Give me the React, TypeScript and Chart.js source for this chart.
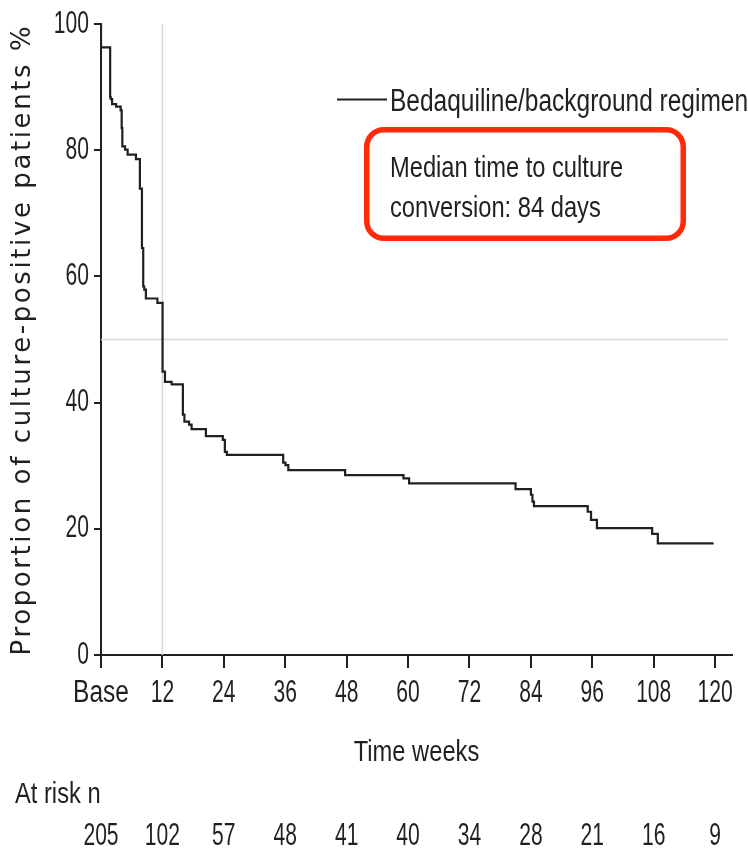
import React, { useEffect, useRef } from 'react';
import { Chart, registerables } from 'chart.js';

Chart.register(...registerables);

// ---- data ----
const WEEKS = [
  0, 0, 1.79, 1.9, 2.17, 2.95, 3.84, 4.04, 4.17, 4.7, 5.2, 6.83, 7.6, 8.0, 8.25, 8.45, 8.77,
  11.02, 12.03, 12.5, 13.8, 16.0, 16.3, 17.2, 17.7, 20.5, 23.8, 24.2, 24.6, 35.6, 36.05, 36.6,
  47.7, 59.1, 60.2, 81.0, 84.0, 84.3, 84.6, 95.1, 95.75, 96.9, 107.7, 108.8, 119.7,
];
const PCT_POSITIVE = [
  100, 96.3, 88.4, 88.1, 87.3, 86.9, 86.3, 83.5, 80.6, 80.1, 79.3, 78.6, 73.9, 64.5, 58.4, 57.9, 56.5,
  55.8, 44.9, 43.3, 42.9, 38.1, 37.0, 36.5, 35.8, 34.7, 34.1, 32.2, 31.7, 30.5, 30.1, 29.3,
  28.5, 28.0, 27.2, 26.3, 25.4, 24.3, 23.6, 22.7, 21.4, 20.1, 19.2, 17.7, 17.7,
];
const X_TICKS = [0, 12, 24, 36, 48, 60, 72, 84, 96, 108, 120];
const X_TICK_LABELS = ['Base', '12', '24', '36', '48', '60', '72', '84', '96', '108', '120'];
const Y_TICK_STEP = 20;
const AT_RISK = [205, 102, 57, 48, 41, 40, 34, 28, 21, 16, 9];
const MEDIAN_LINE_X = [0, 122.5];
const MEDIAN_LINE_Y = [50, 50];
const REF_WEEK_X = [12, 12];
const REF_WEEK_Y = [0, 100];
const SERIES_LABEL = 'Bedaquiline/background regimen';
const ANNOTATION_LINES = ['Median time to culture', 'conversion: 84 days'];
const X_TITLE = 'Time weeks';
const Y_TITLE = 'Proportion of culture-positive patients %';
const AT_RISK_TITLE = 'At risk n';

// condensed look: Liberation Sans drawn horizontally squeezed
const NARROW = "'Liberation Sans', Arial, sans-serif";
const WIDE = "'DejaVu Sans', sans-serif";
const INK = '#231f20';
const GREY = '#d9d9d9';
const RED = '#ff2a0a';
const SQUEEZE_TEXT = 0.79;
const SQUEEZE_DIGITS = 0.68;
const WIDE_SPACING = '2.6px';

const overlayPlugin = {
  id: 'overlay',
  afterDraw(chart: any) {
    const ctx = chart.ctx as CanvasRenderingContext2D;
    const xs = chart.scales.x;
    ctx.save();
    // legend
    ctx.strokeStyle = INK;
    ctx.lineWidth = 2;
    ctx.beginPath();
    ctx.moveTo(337, 99.5);
    ctx.lineTo(387, 99.5);
    ctx.stroke();
    ctx.fillStyle = INK;
    ctx.font = `31px ${NARROW}`;
    ctx.textAlign = 'left';
    ctx.textBaseline = 'alphabetic';
    ctx.fillText(SERIES_LABEL, 390, 111);
    // annotation box
    ctx.strokeStyle = RED;
    ctx.lineWidth = 5.5;
    ctx.beginPath();
    (ctx as any).roundRect(366.75, 129.75, 316.5, 108.5, 17);
    ctx.stroke();
    ctx.font = `30px ${NARROW}`;
    ctx.fillText(ANNOTATION_LINES[0], 390, 177);
    ctx.fillText(ANNOTATION_LINES[1], 390, 217);
    // at risk
    ctx.fillText(AT_RISK_TITLE, 15, 803);
    ctx.font = `31px ${NARROW}`;
    ctx.textAlign = 'center';
    AT_RISK.forEach((n, i) => {
      ctx.fillText(String(n), xs.getPixelForValue(X_TICKS[i]), 845);
    });
    ctx.restore();
  },
};

export default function App() {
  const ref = useRef<HTMLCanvasElement>(null);
  useEffect(() => {
    document.body.style.margin = '0';
    const canvas = ref.current!;
    const c2d = canvas.getContext('2d')! as any;
    const origFill = c2d.fillText.bind(c2d);
    c2d.fillText = (text: string, x: number, y: number, maxWidth?: number) => {
      const font = String(c2d.font);
      if (font.includes('Liberation Sans')) {
        const k = /^[\d\s]+$/.test(String(text)) ? SQUEEZE_DIGITS : SQUEEZE_TEXT;
        let w = c2d.measureText(text).width * k;
        if (maxWidth !== undefined) w = Math.min(w, maxWidth);
        return origFill(text, x, y, w);
      }
      if (font.includes('DejaVu Sans')) {
        const prev = c2d.letterSpacing;
        c2d.letterSpacing = WIDE_SPACING;
        const r = maxWidth === undefined ? origFill(text, x, y) : origFill(text, x, y, maxWidth);
        c2d.letterSpacing = prev;
        return r;
      }
      return maxWidth === undefined ? origFill(text, x, y) : origFill(text, x, y, maxWidth);
    };
    const chart = new Chart(canvas, {
      type: 'line',
      data: {
        datasets: [
          {
            label: SERIES_LABEL,
            data: WEEKS.map((w, i) => ({ x: w, y: PCT_POSITIVE[i] })),
            stepped: true,
            borderColor: INK,
            borderWidth: 2.2,
            pointRadius: 0,
            fill: false,
            order: 0,
          },
          {
            label: 'median',
            data: MEDIAN_LINE_X.map((x, i) => ({ x, y: MEDIAN_LINE_Y[i] })),
            borderColor: GREY,
            borderWidth: 1.5,
            pointRadius: 0,
            fill: false,
            order: 1,
          },
          {
            label: 'week 12',
            data: REF_WEEK_X.map((x, i) => ({ x, y: REF_WEEK_Y[i] })),
            borderColor: GREY,
            borderWidth: 1.5,
            pointRadius: 0,
            fill: false,
            order: 2,
          },
        ],
      },
      options: {
        animation: false,
        responsive: false,
        layout: { padding: { top: 24, right: 11, bottom: 78, left: 0 } },
        plugins: { legend: { display: false }, tooltip: { enabled: false } },
        scales: {
          x: {
            type: 'linear',
            min: 0,
            max: 123.3,
            afterBuildTicks: (s: any) => {
              s.ticks = X_TICKS.map((v) => ({ value: v }));
            },
            afterFit: (s: any) => {
              s.height = 116;
            },
            ticks: {
              callback: (v: any) => X_TICK_LABELS[X_TICKS.indexOf(Number(v))],
              font: { family: NARROW, size: 31, lineHeight: 1.2 },
              color: INK,
              padding: 6.7,
              maxRotation: 0,
              autoSkip: false,
            },
            grid: { drawOnChartArea: false, drawTicks: true, tickLength: 13, color: INK, lineWidth: 2 },
            border: { display: true, color: INK, width: 2 },
            title: {
              display: true,
              text: X_TITLE,
              color: INK,
              font: { family: NARROW, size: 30, lineHeight: 1.2 },
              padding: { top: 0, bottom: 0 },
            },
          },
          y: {
            type: 'linear',
            min: 0,
            max: 100,
            afterFit: (s: any) => {
              s.width = 101;
            },
            ticks: {
              stepSize: Y_TICK_STEP,
              font: { family: NARROW, size: 31, lineHeight: 1.2 },
              color: INK,
              padding: 5,
            },
            grid: { drawOnChartArea: false, drawTicks: true, tickLength: 7, color: INK, lineWidth: 2 },
            border: { display: true, color: INK, width: 2 },
            title: {
              display: true,
              text: Y_TITLE,
              color: INK,
              font: { family: WIDE, size: 26, lineHeight: 1.2 },
              padding: { top: 8, bottom: 0 },
            },
          },
        },
      },
      plugins: [overlayPlugin],
    } as any);
    return () => {
      chart.destroy();
      delete c2d.fillText;
    };
  }, []);
  return <canvas ref={ref} width={748} height={849} style={{ display: 'block' }} />;
}
